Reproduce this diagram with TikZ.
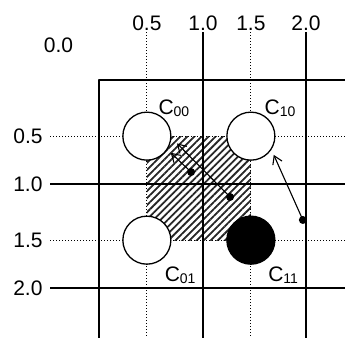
\documentclass[tikz,border=0pt]{standalone}
\usepackage{fontspec}
\setmainfont{Liberation Sans}
\usetikzlibrary{arrows.meta,patterns.meta}
\newcommand{\cellname}[1]{C\raisebox{-2pt}{\fontsize{14}{14}\selectfont #1}}
\begin{document}
\begin{tikzpicture}[x=104pt, y=-104pt, font=\fontsize{21}{24}\selectfont, line join=round,
	>={Straight Barb[length=8pt,width=10pt]},
	solidline/.style={line width=1.3pt},
	dotline/.style={line width=1pt, dash pattern=on 1pt off 2pt},
	axlbl/.style={inner sep=1pt},
	sidelbl/.style={inner sep=7pt},
	site/.style={circle, draw, line width=1.3pt, fill=white, minimum size=48pt, inner sep=0pt},
	probe/.style={circle, fill, minimum size=8pt, inner sep=0pt}]
	\useasboundingbox (-0.952,-0.769) rectangle (2.365,2.481);
	\path 
	(0.46,0.54) coordinate (p00)
	(1.46,0.54) coordinate (p10)
	(0.46,1.54) coordinate (p01)
	(1.46,1.54) coordinate (p11)
	(0.69,0.70) coordinate (t1)
	(0.75,0.61) coordinate (t2)
	(1.68,0.72) coordinate (t3)
	;
	% hatched area
	\fill[pattern={Lines[angle=45,distance=5pt,line width=1.8pt]}, pattern color=black!85] (p00) rectangle (p11);
	
	\draw[dotline] (0.46,-0.46) node[above, axlbl] {0.5} -- (0.46,2.48);
	\draw[dotline] (1.46,-0.46) node[above, axlbl] {1.5} -- (1.46,2.48);
	\draw[solidline] (1,-0.46) node[above, axlbl] {1.0} -- (1,2.48);
	\draw[solidline] (1.99,-0.46) node[above, axlbl] {2.0} -- (1.99,2.48);
	\draw[dotline] (-0.47,0.54) node[left, sidelbl] {0.5} -- (2.37,0.54);
	\draw[dotline] (-0.47,1.54) node[left, sidelbl] {1.5} -- (2.37,1.54);
	\draw[solidline] (-0.47,1) node[left, sidelbl] {1.0} -- (2.37,1);
	\draw[solidline] (-0.47,2) node[left, sidelbl] {2.0} -- (2.37,2);
	\draw[solidline] (0,2.48) -- (0,0) -- (2.37,0);
	\node (origin) at (-0.39,-0.33) {0.0};
	
	\node[site] (c00) at (p00) {};
	\node[site] (c10) at (p10) {};
	\node[site] (c01) at (p01) {};
	\node[site, fill=black] (c11) at (p11) {};
	\node (l00) at (0.72,0.27) {\cellname{00}};
	\node (l10) at (1.74,0.27) {\cellname{10}};
	\node (l01) at (0.78,1.875) {\cellname{01}};
	\node (l11) at (1.77,1.875) {\cellname{11}};
	
	\node[probe] (d1) at (0.885,0.885) {};
	\node[probe] (d2) at (1.26,1.125) {};
	\node[probe] (d3) at (1.96,1.346) {};
	\draw[->, line width=1.1pt] (d1.center) -- (t1);
	\draw[->, line width=1.1pt] (d2.center) -- (t2);
	\draw[->, line width=1.1pt] (d3.center) -- (t3);
\end{tikzpicture}
\end{document}
